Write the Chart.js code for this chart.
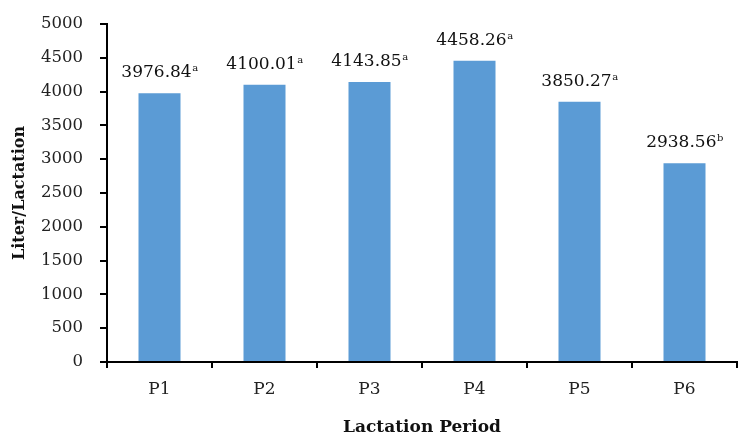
<!DOCTYPE html>
<html>
<head>
<meta charset="utf-8">
<script src="https://cdn.jsdelivr.net/npm/chart.js@4/dist/chart.umd.min.js"></script>
<style>
html,body{margin:0;padding:0;background:#fff;}
#wrap{width:738px;height:438px;position:relative;}
</style>
</head>
<body>
<div id="wrap"><canvas id="c"></canvas></div>
<script>
const categories = ["P1","P2","P3","P4","P5","P6"];
const values = [3976.84, 4100.01, 4143.85, 4458.26, 3850.27, 2938.56];
const letters = ["a","a","a","a","a","b"];
const yTicks = [0,500,1000,1500,2000,2500,3000,3500,4000,4500,5000];

const FONT = "'DejaVu Serif', serif";

const labelPlugin = {
  id: 'valueLabels',
  afterDatasetsDraw(chart) {
    const ctx = chart.ctx;
    const meta = chart.getDatasetMeta(0);
    ctx.save();
    ctx.fillStyle = '#111';
    ctx.textBaseline = 'alphabetic';
    ctx.textAlign = 'left';
    meta.data.forEach((bar, i) => {
      const main = values[i].toFixed(2);
      const sup = letters[i];
      ctx.font = "17px " + FONT;
      const w1 = ctx.measureText(main).width;
      ctx.font = "10px " + FONT;
      const w2 = ctx.measureText(sup).width;
      const x0 = bar.x - (w1 + w2) / 2;
      const base = bar.y - 16;
      ctx.font = "17px " + FONT;
      ctx.fillText(main, x0, base);
      ctx.font = "10px " + FONT;
      ctx.fillText(sup, x0 + w1 + 0.5, base - 6);
    });
    ctx.restore();
  }
};

new Chart(document.getElementById('c'), {
  type: 'bar',
  data: {
    labels: categories,
    datasets: [{
      data: values,
      backgroundColor: '#5B9BD5',
      borderWidth: 0,
      barPercentage: 0.8,
      categoryPercentage: 0.5
    }]
  },
  options: {
    responsive: true,
    maintainAspectRatio: false,
    animation: false,
    devicePixelRatio: 1,
    layout: { padding: { top: 0, right: 1, left: 0, bottom: 0 } },
    plugins: { legend: { display: false }, tooltip: { enabled: false } },
    scales: {
      x: {
        offset: true,
        grid: { offset: true, drawOnChartArea: false, color: '#000', lineWidth: 2, tickLength: 6 },
        border: { color: '#000', width: 2 },
        ticks: { color: '#222', font: { family: FONT, size: 17 }, padding: 11 },
        title: { display: true, text: 'Lactation Period', color: '#111',
                 font: { family: FONT, size: 17, weight: 'bold' }, padding: { top: 0, bottom: 0 } },
        afterFit(s) { s.height = 76; }
      },
      y: {
        min: 0, max: 5000,
        afterBuildTicks(s) { s.ticks = yTicks.map(v => ({ value: v })); },
        grid: { drawOnChartArea: false, color: '#000', lineWidth: 2, tickLength: 7 },
        border: { color: '#000', width: 2 },
        ticks: { color: '#222', font: { family: FONT, size: 16.5, lineHeight: 0.85 }, padding: 17,
                 callback: (v) => String(v) },
        title: { display: true, text: 'Liter/Lactation', color: '#111',
                 font: { family: FONT, size: 16, weight: 'bold' }, padding: { top: 10, bottom: 0 } },
        afterFit(s) { s.width = 107; }
      }
    }
  },
  plugins: [labelPlugin]
});
</script>
</body>
</html>
